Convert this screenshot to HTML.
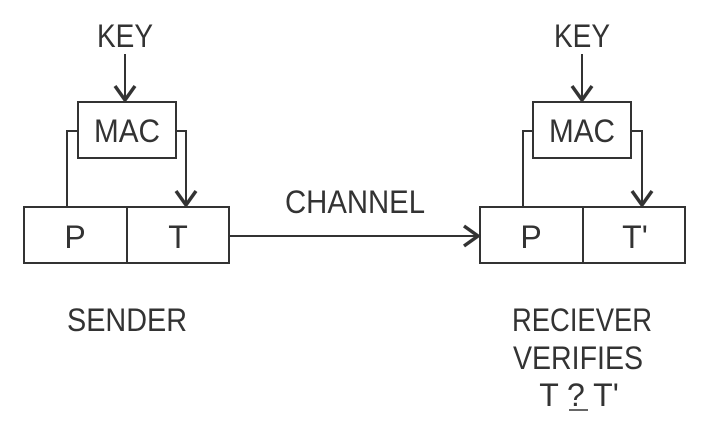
<!DOCTYPE html>
<html><head><style>body{margin:0;background:#fff}svg{display:block}</style></head><body>
<svg width="709" height="438" viewBox="0 0 709 438" xmlns="http://www.w3.org/2000/svg">
<g fill="none" stroke="#333" stroke-width="2">
<rect x="24" y="207" width="205" height="56"/><line x1="127" y1="207" x2="127" y2="263"/>
<rect x="78" y="102" width="98" height="56"/>
<polyline points="67,207 67,131 78,131"/>
<polyline points="176,131 186,131 186,205"/>
<line x1="125" y1="54" x2="125" y2="100"/>
<rect x="480" y="207" width="205" height="56"/><line x1="583" y1="207" x2="583" y2="263"/>
<rect x="533" y="102" width="98" height="56"/>
<polyline points="523,207 523,131 533,131"/>
<polyline points="631,131 642,131 642,205"/>
<line x1="582" y1="54" x2="582" y2="100"/>
<line x1="229" y1="236" x2="478" y2="236"/>
</g>
<g fill="none" stroke="#333" stroke-width="3.5">
<polyline points="115,86 125,100 135,86"/>
<polyline points="176,191 186,205 196,191"/>
<polyline points="572,86 582,100 592,86"/>
<polyline points="632,191 642,205 652,191"/>
<polyline points="464,226 478,236 464,246"/>
</g>
<g font-family="Liberation Sans, sans-serif" font-size="32" fill="#333" text-anchor="middle">
<text x="125" y="47" textLength="56" lengthAdjust="spacingAndGlyphs">KEY</text>
<text x="127" y="142" textLength="66" lengthAdjust="spacingAndGlyphs">MAC</text>
<text x="75" y="248">P</text>
<text x="178" y="248">T</text>
<text x="582" y="47" textLength="56" lengthAdjust="spacingAndGlyphs">KEY</text>
<text x="582" y="142" textLength="66" lengthAdjust="spacingAndGlyphs">MAC</text>
<text x="531" y="248">P</text>
<text x="635" y="248">T'</text>
<text x="355" y="213" textLength="140" lengthAdjust="spacingAndGlyphs">CHANNEL</text>
<text x="127" y="331" textLength="120" lengthAdjust="spacingAndGlyphs">SENDER</text>
<text x="582" y="331" textLength="140" lengthAdjust="spacingAndGlyphs">RECIEVER</text>
<text x="578" y="369" textLength="130" lengthAdjust="spacingAndGlyphs">VERIFIES</text>
<text x="579" y="406">T ? T'</text>
</g>
<line x1="569" y1="410" x2="588" y2="410" stroke="#333" stroke-width="1.5"/>
</svg>
</body></html>
